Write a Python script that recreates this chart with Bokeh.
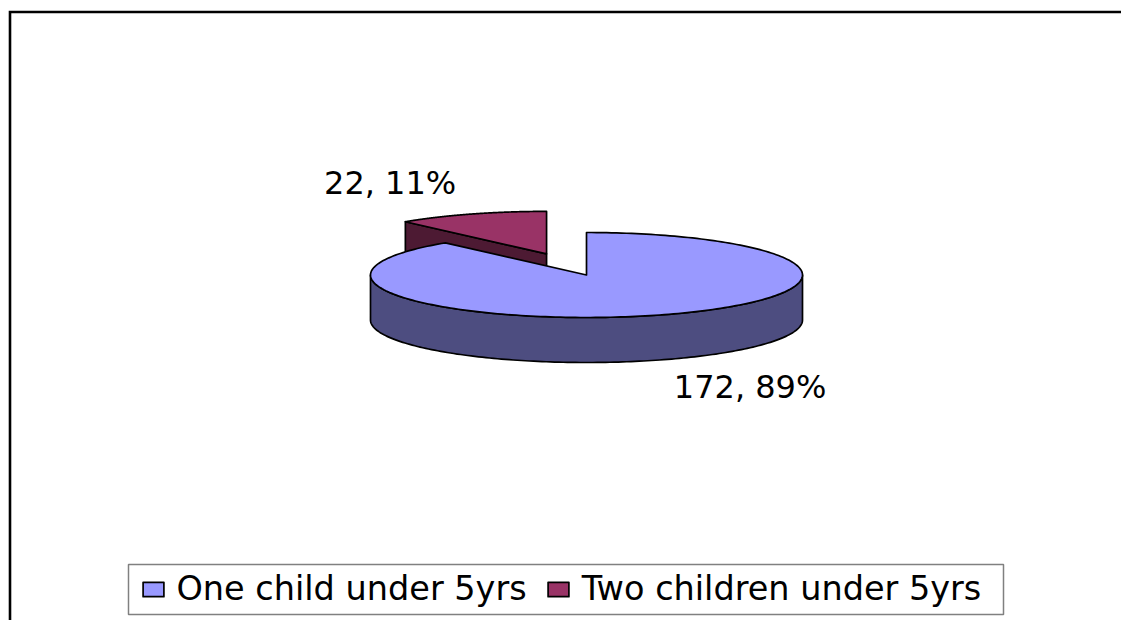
import numpy as np
from bokeh.plotting import figure
from bokeh.models import Range1d, Legend, LegendItem, BoxAnnotation, ColumnDataSource
from bokeh.embed import file_html
from bokeh.resources import INLINE
from bokeh.core.properties import value

# ---------------- data ----------------
categories = ["One child under 5yrs", "Two children under 5yrs"]
counts = [172, 22]
top_colors = ["#9999FF", "#993366"]
side_colors = ["#4D4D80", "#4D1A33"]
explode = [0.0, 0.53]

# ---------------- layout ----------------
W, H = 1121, 620
X0, Y0 = 0, 0
CX, CY = 586.0, 274.5
RX, RY = 216.0, 42.5
DEPTH = 45.0
FONT = "DejaVu Sans"
OUTLINE_W = 1.7
label_offsets = [(12.0, 27.0), (-15.0, -31.0)]
BORDER_LEFT, BORDER_TOP = 9.5, 11.5

p = figure(width=W, height=H,
           x_range=Range1d(X0, X0 + W), y_range=Range1d(Y0 + H, Y0),
           output_backend="svg", toolbar_location=None,
           x_axis_type=None, y_axis_type=None,
           min_border=0, outline_line_color=None,
           background_fill_color="white", border_fill_color="white")
p.grid.visible = False

# outer chart-area border: only its left and top edges fall inside the window
p.line(x=[BORDER_LEFT, BORDER_LEFT, X0 + W + 40],
       y=[Y0 + H + 40, BORDER_TOP, BORDER_TOP],
       line_color="black", line_width=2.6, line_join="miter")

total = float(sum(counts))
fracs = [c / total for c in counts]
pcts = [int(round(100 * f)) for f in fracs]

spans = []
start = 90.0
for f in fracs:
    end = start - 360.0 * f
    spans.append((end, start))
    start = end


def ell(t, ox, oy, dz=0.0):
    r = np.radians(t)
    return CX + ox + RX * np.cos(r), CY + oy - RY * np.sin(r) + dz


slices = []
for i, (lo, hi) in enumerate(spans):
    mid = 0.5 * (lo + hi)
    mr = np.radians(mid)
    ox = explode[i] * RX * np.cos(mr)
    oy = -explode[i] * RY * np.sin(mr)
    slices.append(dict(i=i, lo=lo, hi=hi, mid=mid, ox=ox, oy=oy,
                       order=oy - 0.5 * RY * np.sin(mr)))

top_renderers = {}
for s in sorted(slices, key=lambda d: d["order"]):
    i, lo, hi, ox, oy = s["i"], s["lo"], s["hi"], s["ox"], s["oy"]
    vx, vy = CX + ox, CY + oy
    faces_x, faces_y = [], []
    # radial side faces that face the viewer
    for edge, normal in ((lo, lo - 90.0), (hi, hi + 90.0)):
        if np.sin(np.radians(normal)) < -1e-6:
            ex, ey = ell(edge, ox, oy)
            faces_x.append([vx, ex, ex, vx])
            faces_y.append([vy, ey, ey + DEPTH, vy + DEPTH])
    # outer wall (front part only)
    for k in range(-2, 2):
        a0 = max(lo, 180.0 + 360.0 * k)
        a1 = min(hi, 360.0 + 360.0 * k)
        if a1 > a0:
            ts = np.linspace(a0, a1, 160)
            tx, ty = ell(ts, ox, oy)
            bx, by = ell(ts[::-1], ox, oy, DEPTH)
            faces_x.append(list(tx) + list(bx))
            faces_y.append(list(ty) + list(by))
    if faces_x:
        p.patches(xs=faces_x, ys=faces_y, fill_color=side_colors[i],
                  line_color="black", line_width=OUTLINE_W, line_join="round")
    ts = np.linspace(lo, hi, 240)
    ax, ay = ell(ts, ox, oy)
    src = ColumnDataSource(dict(xs=[[vx] + list(ax)], ys=[[vy] + list(ay)]))
    top_renderers[i] = p.patches(xs="xs", ys="ys", source=src,
                                 fill_color=top_colors[i], line_color="black",
                                 line_width=OUTLINE_W, line_join="round")

# data labels
lx, ly, ltxt, lalign = [], [], [], []
for s in slices:
    i, mid = s["i"], s["mid"]
    front = np.sin(np.radians(mid)) < 0
    ax_, ay_ = ell(mid, s["ox"], s["oy"], DEPTH if front else 0.0)
    dx, dy = label_offsets[i]
    lx.append(ax_ + dx)
    ly.append(ay_ + dy)
    ltxt.append(f"{counts[i]}, {pcts[i]}%")
    lalign.append("left" if np.cos(np.radians(mid)) > 0 else "right")
p.text(x=lx, y=ly, text=ltxt, text_align=lalign, text_baseline="alphabetic",
       text_font=value(FONT), text_font_size="32px", text_color="black")

# legend
p.add_layout(BoxAnnotation(left=128, right=1003, top=564, bottom=614,
                           fill_alpha=0, line_color="#808080", line_alpha=1.0,
                           line_width=1.5))
items = [LegendItem(label=categories[i], renderers=[top_renderers[i]])
         for i in range(len(categories))]
legend = Legend(items=items, orientation="horizontal", location=(139.5, 12),
                padding=0, margin=0, spacing=18, label_standoff=11,
                glyph_width=26, glyph_height=18,
                label_text_font=FONT, label_text_font_size="33.5px",
                label_text_color="black",
                border_line_color=None, background_fill_alpha=0)
p.add_layout(legend, "center")

open("out.html", "w").write(file_html(p, INLINE))
